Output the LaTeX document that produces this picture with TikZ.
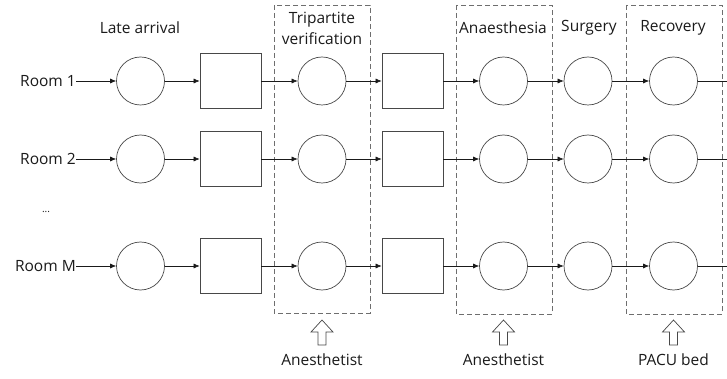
\documentclass[tikz,border=0pt]{standalone}
\usepackage{fontspec}
\setmainfont{Open Sans}
\usetikzlibrary{arrows.meta}
\definecolor{lineC}{HTML}{1A1A1A}
\definecolor{dashC}{HTML}{6E6E6E}
\begin{document}
\begin{tikzpicture}[x=1pt,y=-1pt,
  every node/.style={font=\fontsize{15.5}{21}\selectfont, text=lineC},
  circ/.style={draw=lineC!80, circle, minimum size=48pt, inner sep=0pt, line width=0.7pt},
  sq/.style={draw=lineC!80, rectangle, minimum width=61pt, minimum height=55pt, inner sep=0pt, line width=0.7pt},
  flow/.style={draw=lineC, line width=0.6pt, -{Latex[length=6pt,width=5pt]}},
  stage/.style={draw=dashC, dashed, dash pattern=on 5pt off 3pt, line width=0.8pt},
  hollow/.style={draw=lineC!80, line width=0.7pt, fill=white}
]
\useasboundingbox (0,0) rectangle (727,379);

% stage boxes
\draw[stage] (274,5) rectangle (370,313);
\draw[stage] (456,5) rectangle (552,314);
\draw[stage] (626,5) rectangle (722,314);

% headers
\node (hLate) at (140,28) {Late arrival};
\node[align=center] (hTri) at (322,28) {Tripartite\\verification};
\node (hAna) at (503,28) {Anaesthesia};
\node (hSur) at (589,28) {Surgery};
\node (hRec) at (673,28) {Recovery};

% rows
\foreach \r/\y/\lab in {a/81/Room 1, b/159/Room 2, m/266/Room M}{
  \node[anchor=east, inner sep=0pt] (room\r) at (76,\y) {\lab};
  \node[circ] (c1\r) at (140.5,\y) {};
  \node[sq] (s1\r) at (230.5,\y) {};
  \node[circ] (c2\r) at (322,\y) {};
  \node[sq] (s2\r) at (412.5,\y) {};
  \node[circ] (c3\r) at (503.5,\y) {};
  \node[circ] (c4\r) at (588,\y) {};
  \node[circ] (c5\r) at (673.5,\y) {};
  \coordinate (end\r) at (727,\y);
  \draw[flow] (room\r.east) -- (c1\r);
  \draw[flow] (c1\r) -- (s1\r);
  \draw[flow] (s1\r) -- (c2\r);
  \draw[flow] (c2\r) -- (s2\r);
  \draw[flow] (s2\r) -- (c3\r);
  \draw[flow] (c3\r) -- (c4\r);
  \draw[flow] (c4\r) -- (c5\r);
  \draw[draw=lineC, line width=0.6pt] (c5\r) -- (end\r);
}

\node (dots) at (46,212) {\fontsize{10}{10}\selectfont ...};

% hollow up arrows
\foreach \n/\cx in {1/322, 2/503.5, 3/673.5}{
  \draw[hollow] (\cx,320) -- (\cx+11,332) -- (\cx+4,332) -- (\cx+4,345) -- (\cx-4,345) -- (\cx-4,332) -- (\cx-11,332) -- cycle;
}

% resources
\node (rA1) at (322,360) {Anesthetist};
\node (rA2) at (503.5,360) {Anesthetist};
\node (rP) at (673.5,360) {PACU bed};
\end{tikzpicture}
\end{document}
